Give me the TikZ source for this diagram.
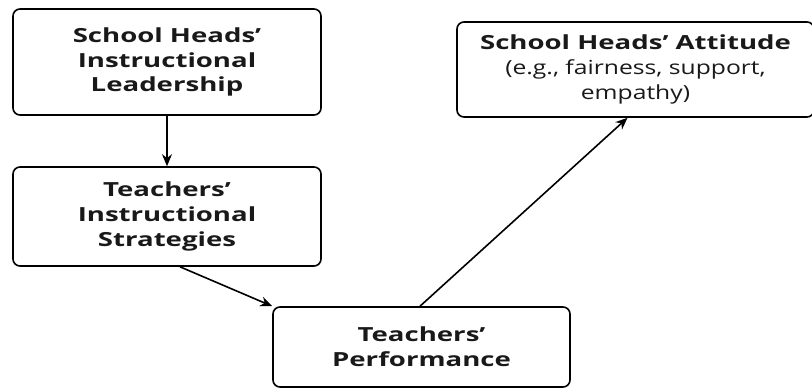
\documentclass[tikz,border=0pt]{standalone}
\usepackage{fontspec}
\setmainfont{Open Sans}[FakeStretch=1.27,BoldFeatures={FakeStretch=1.42}]
\usetikzlibrary{arrows.meta}

\begin{document}
\begin{tikzpicture}[x=1bp,y=1bp,
  box/.style={draw,line width=1.6bp,rounded corners=7bp,inner sep=0pt,align=center,font=\fontsize{19.5}{25}\selectfont,text=black!90},
  link/.style={line width=1.6bp,-{Stealth[length=12bp,width=10bp]}}]
\useasboundingbox (0,0) rectangle (812,389);
\node[box,minimum width=308bp,minimum height=106bp] (lead) at (167,327) {\bfseries School Heads'\\\bfseries Instructional\\\bfseries Leadership};
\node[box,minimum width=308bp,minimum height=99bp] (strat) at (167,172.5) {\bfseries Teachers'\\\bfseries Instructional\\\bfseries Strategies};
\node[box,minimum width=297bp,minimum height=80bp] (perf) at (421.5,42) {\bfseries Teachers'\\\bfseries Performance};
\node[box,minimum width=357bp,minimum height=95bp] (att) at (635.5,319.5) {\bfseries School Heads' Attitude\\(e.g., fairness, support,\\empathy)};
\draw[link] (lead.south) -- (strat.north);
\draw[link] ([xshift=13bp]strat.south) -- (perf.north west);
\draw[link] ([xshift=-1.5bp]perf.north) -- ([xshift=-8bp]att.south);
\end{tikzpicture}
\end{document}
